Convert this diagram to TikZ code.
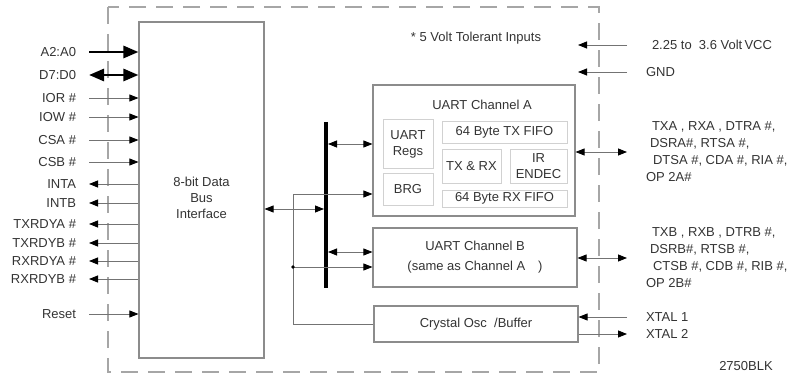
\documentclass[tikz,border=0pt]{standalone}
\usepackage{fontspec}
\setmainfont{Liberation Sans}
\usetikzlibrary{arrows.meta,positioning}

\begin{document}
\begin{tikzpicture}[x=1pt, y=-1pt,
    font=\fontsize{13}{16}\selectfont, text=black!80,
    frame/.style={draw=black!35, line width=1.3pt, dash pattern=on 17pt off 10pt},
    blk/.style={draw=black!45, line width=1.1pt, inner sep=0, align=center},
    sub/.style={draw=black!18, line width=1pt, inner sep=0, align=center},
    wire/.style={draw=black!55, line width=0.8pt},
    sig/.style={wire, -{Triangle[length=9pt,width=7pt,color=black]}},
    dsig/.style={wire, {Triangle[length=9pt,width=7pt,color=black]}-{Triangle[length=9pt,width=7pt,color=black]}},
    bigsig/.style={line width=2.8pt, -{Triangle[length=15pt,width=12pt]}},
    bigdsig/.style={line width=2.8pt, {Triangle[length=15pt,width=12pt]}-{Triangle[length=15pt,width=12pt]}},
    bar/.style={line width=3.5pt},
    lpin/.style={anchor=east, inner sep=0, outer xsep=13pt},
    rpin/.style={anchor=west, inner sep=0, outer xsep=19pt, align=left, font=\fontsize{13}{17}\selectfont}]
  \useasboundingbox (0,0) rectangle (789,377);
  \draw[frame] (108,7) rectangle (599,372);

  \node[blk, minimum width=125pt, minimum height=336pt] (bif) at (201.5,190) {};
  \node[align=center] (biftxt) at (201.5,198) {8-bit Data\\Bus\\Interface};

  \node[blk, minimum width=202pt, minimum height=131pt] (uarta) at (474,150.5) {};
  \node (atitle) at (482,105) {UART Channel A};
  \node[sub, minimum width=50pt, minimum height=48pt] (regs) at (408,144) {UART\\Regs};
  \node[sub, minimum width=50pt, minimum height=32pt] (brg) at (408,189) {BRG};
  \node[sub, minimum width=125pt, minimum height=21pt] (txfifo) at (504.5,132.5) {64 Byte TX FIFO};
  \node[sub, minimum width=59pt, minimum height=34pt] (txrx) at (471.5,166) {TX \& RX};
  \node[sub, minimum width=57pt, minimum height=34pt] (endec) at (538.5,166) {IR\\ENDEC};
  \node[sub, minimum width=125pt, minimum height=17pt] (rxfifo) at (504.5,198.5) {64 Byte RX FIFO};

  \node[blk, minimum width=204pt, minimum height=59pt] (uartb) at (475,257.5) {UART Channel B\\[4pt](same as Channel A\quad)};
  \node[blk, minimum width=204pt, minimum height=36pt] (xtal) at (476,324) {Crystal Osc\ \ /Buffer};

  \node (note) at (476,38) {* 5 Volt Tolerant Inputs};
  \node (code) at (746,366) {2750BLK};

  \coordinate (bustop) at (326,122);
  \coordinate (busbot) at (326,288);
  \draw[bar] (bustop) -- (busbot);
  \coordinate (busin) at (324,209);
  \draw[dsig] (bif.east |- busin) -- (busin);
  \coordinate (busa) at (328,144);
  \draw[dsig] (busa) -- (busa -| uarta.west);
  \coordinate (busb) at (328,252);
  \draw[dsig] (busb) -- (busb -| uartb.west);

  \coordinate (clka) at (293,194);
  \coordinate (clkb) at (293,267);
  \draw[wire] (xtal.west) -| (clka);
  \draw[sig] (clka) -- (clka -| uarta.west);
  \draw[sig] (clkb) -- (clkb -| uartb.west);
  \fill (clkb) circle (1.8pt);

  \node[lpin] (a2) at (89,52) {A2:A0};
  \node[lpin] (d7) at (89,75) {D7:D0};
  \node[lpin] (ior) at (89,98) {IOR \#};
  \node[lpin] (iow) at (89,117) {IOW \#};
  \node[lpin] (csa) at (89,140) {CSA \#};
  \node[lpin] (csb) at (89,162) {CSB \#};
  \node[lpin] (inta) at (89,184) {INTA};
  \node[lpin] (intb) at (89,203) {INTB};
  \node[lpin] (txrdya) at (89,224) {TXRDYA \#};
  \node[lpin] (txrdyb) at (89,243) {TXRDYB \#};
  \node[lpin] (rxrdya) at (89,261) {RXRDYA \#};
  \node[lpin] (rxrdyb) at (89,279) {RXRDYB \#};
  \node[lpin] (reset) at (89,314) {Reset};

  \draw[bigsig] (a2) -- (a2 -| bif.west);
  \draw[bigdsig] (d7) -- (d7 -| bif.west);
  \draw[sig] (ior) -- (ior -| bif.west);
  \draw[sig] (iow) -- (iow -| bif.west);
  \draw[sig] (csa) -- (csa -| bif.west);
  \draw[sig] (csb) -- (csb -| bif.west);
  \draw[sig] (inta -| bif.west) -- (inta);
  \draw[sig] (intb -| bif.west) -- (intb);
  \draw[sig] (txrdya -| bif.west) -- (txrdya);
  \draw[sig] (txrdyb -| bif.west) -- (txrdyb);
  \draw[sig] (rxrdya -| bif.west) -- (rxrdya);
  \draw[sig] (rxrdyb -| bif.west) -- (rxrdyb);
  \draw[sig] (reset) -- (reset -| bif.west);

  \coordinate (vccin) at (578,45);
  \coordinate (gndin) at (578,72);
  \node[rpin] (vcc) at (627,45) {\hspace*{6pt}2.25 to\ \ 3.6 Volt\,VCC};
  \node[rpin] (gnd) at (627,72) {GND};
  \node[rpin] (sera) at (627,152) {\hspace*{6pt}TXA\ , RXA\ , DTRA \#,\\\hspace*{4pt}DSRA\#,\ RTSA \#,\\\hspace*{7pt}DTSA \#, CDA \#,\ RIA \#,\\OP 2A\#};
  \node[rpin] (serb) at (627,258) {\hspace*{6pt}TXB\ , RXB\ , DTRB \#,\\\hspace*{4pt}DSRB\#,\ RTSB \#,\\\hspace*{7pt}CTSB \#, CDB \#,\ RIB \#,\\OP 2B\#};
  \node[rpin] (xtal1) at (627,317) {XTAL 1};
  \node[rpin] (xtal2) at (627,334) {XTAL 2};

  \draw[sig] (vcc) -- (vccin);
  \draw[sig] (gnd) -- (gndin);
  \draw[dsig] (uarta.east |- sera) -- (sera);
  \draw[dsig] (uartb.east |- serb) -- (serb);
  \draw[sig] (xtal1) -- (xtal1 -| xtal.east);
  \draw[sig] (xtal.east |- xtal2) -- (xtal2);
\end{tikzpicture}
\end{document}
